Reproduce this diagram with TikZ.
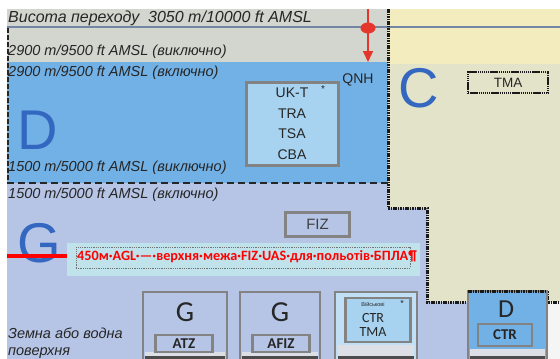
\documentclass[tikz,border=0pt]{standalone}
\usepackage{fontspec}
\setmainfont{Liberation Sans}
\newfontfamily\carl{Carlito}
\usetikzlibrary{arrows.meta}
\definecolor{greytop}{HTML}{D3D6CF}
\definecolor{dblue}{HTML}{72B1E6}
\definecolor{gviolet}{HTML}{B6C5E6}
\definecolor{yelTop}{HTML}{F3ECBE}
\definecolor{yelLow}{HTML}{E2E3C9}
\definecolor{boxblue}{HTML}{A7D3F1}
\definecolor{bigblue}{HTML}{3468C0}
\definecolor{boxgrey}{HTML}{838383}
\definecolor{steel}{HTML}{7386A6}
\definecolor{cyanbox}{HTML}{BFE2EB}
\definecolor{redmark}{HTML}{E4362B}
\definecolor{txt}{HTML}{262626}
\definecolor{groundstrip}{HTML}{DCE0E6}
\tikzset{
  lvl/.style={anchor=west, inner sep=0, text=txt, font=\itshape\fontsize{14.5}{14.5}\selectfont},
  bigletter/.style={inner sep=0, text=bigblue, font=\fontsize{56}{56}\selectfont},
  greybox/.style={draw=boxgrey, line width=2.5pt},
  boxtext/.style={inner sep=0, text=txt, font=\fontsize{14}{14}\selectfont},
  cboxtext/.style={inner sep=0, text=txt, font=\carl\fontsize{14}{14}\selectfont},
  cbig/.style={inner sep=0, text=txt, font=\carl\fontsize{29}{29}\selectfont},
  dotline/.style={draw=black!90, line width=3pt, dash pattern=on 1.6pt off 0.8pt},
}
\begin{document}
\begin{tikzpicture}[x=1pt,y=-1pt]
\useasboundingbox (0,0) rectangle (560,359);
% backgrounds
\fill[white] (0,0) rectangle (560,359);
\fill[gviolet] (7,183) rectangle (560,359);
\fill[greytop] (7,9) rectangle (388,62);
\fill[dblue] (7,62) rectangle (388,183);
\fill[yelLow] (388,9) -- (560,9) -- (560,302) -- (547,302) -- (547,291) -- (468,291)
  -- (468,302) -- (427,302) -- (427,208) -- (388,208) -- cycle;
\fill[yelTop] (388,9) rectangle (560,64);
\fill[black!4] (547,302) rectangle (560,359);
% transition level line
\draw[steel, line width=1.2pt] (7,27) -- (560,27);
% boundaries
\draw[dotline] (388,9) -- (388,208) -- (427,208) -- (427,302) -- (468,302) -- (468,291)
  -- (547,291) -- (547,302) -- (560,302);
\draw[black!85, line width=2pt, dash pattern=on 5pt off 2pt] (8,28) -- (8,182);
\draw[black!85, line width=2pt, dash pattern=on 7pt off 4pt] (7,183) -- (388,183);
% red marker
\coordinate (rtop) at (368,9);
\coordinate (rend) at (368,62);
\draw[redmark, line width=1.6pt, -{Triangle[length=11pt,width=10pt]}] (rtop) -- (rend);
\fill[redmark] (368,28) ellipse (7.5 and 5.5);
% level labels
\node[lvl, font=\itshape\fontsize{16}{16}\selectfont] (tl) at (8,18) {Висота переходу\ \ 3050 m/10000 ft AMSL};
\node[lvl] (l1) at (8,52) {2900 m/9500 ft AMSL (виключно)};
\node[lvl] (l2) at (8,73) {2900 m/9500 ft AMSL (включно)};
\node[lvl] (l3) at (8,168) {1500 m/5000 ft AMSL (виключно)};
\node[lvl] (l4) at (8,195) {1500 m/5000 ft AMSL (включно)};
\node[lvl] (s1) at (8,333) {Земна або водна};
\node[lvl] (s2) at (8,353) {поверхня};
% class letters
\node[bigletter] (D) at (38,130) {D};
\node[bigletter] (C) at (419,88) {C};
\node[bigletter] (G) at (39,243) {G};
% UK-T box
\node[greybox, fill=boxblue, minimum width=92pt, minimum height=83pt] (ukbox) at (292.5,124) {};
\node[boxtext] (ukt) at (292,93) {UK-T};
\node[boxtext, font=\fontsize{10}{10}\selectfont] (star1) at (323,89) {*};
\node[boxtext] (tra) at (292,114) {TRA};
\node[boxtext] (tsa) at (292,134) {TSA};
\node[boxtext] (cba) at (292,155) {CBA};
\node[boxtext] (qnh) at (358,80) {QNH};
% TMA box in C
\node[draw=black!90, line width=2.4pt, dash pattern=on 1.4pt off 0.7pt, minimum width=80pt,
  minimum height=21pt, inner sep=0, text=txt, font=\fontsize{13.5}{13.5}\selectfont] (tma) at (508,82.5) {TMA};
% FIZ box
\node[greybox, minimum width=64pt, minimum height=24pt, inner sep=0, text=black!75,
  font=\fontsize{15}{15}\selectfont] (fiz) at (317.5,224.5) {FIZ};
% red line and note
\coordinate (rl0) at (7,256);
\coordinate (rl1) at (70,256);
\draw[red, line width=4pt] (rl0) -- (rl1);
\node[fill=cyanbox, minimum width=353pt, minimum height=33pt, inner sep=0] (note) at (243.5,259.5) {};
\node[draw=black!55, line width=0.6pt, dash pattern=on 1pt off 0.8pt, minimum width=334pt,
  minimum height=21pt, inner sep=0] (notebox) at (243,257.5) {};
\node[anchor=west, inner sep=0, text=red, font=\carl\bfseries\fontsize{14.2}{14.2}\selectfont] (notetext) at (77,257)
  {450м·AGL·—·верхня·межа·FIZ·UAS·для·польотів·БПЛА¶};
% bottom boxes
% ATZ
\fill[groundstrip] (145,352) rectangle (225,359);
\fill[black!70] (145,356) rectangle (225,359);
\node[greybox, minimum width=84pt, minimum height=70pt, inner sep=0] (atzbox) at (185,327) {};
\node[cbig] (g1) at (185,312) {G};
\node[greybox, minimum width=57pt, minimum height=17pt, inner sep=0, text=txt,
  font=\carl\bfseries\fontsize{15}{15}\selectfont] (atz) at (184,343.5) {ATZ};
% AFIZ
\fill[groundstrip] (242,352) rectangle (318,359);
\fill[black!70] (242,356) rectangle (318,359);
\node[greybox, minimum width=80pt, minimum height=70pt, inner sep=0] (afizbox) at (280,327) {};
\node[cbig] (g2) at (280,312) {G};
\node[greybox, minimum width=57pt, minimum height=17pt, inner sep=0, text=txt,
  font=\carl\bfseries\fontsize{15}{15}\selectfont] (afiz) at (281,343.5) {AFIZ};
% CTR/TMA military
\node[greybox, fill=boxblue!70!white, minimum width=82pt, minimum height=70pt, inner sep=0] (milbox) at (376,327) {};
\fill[groundstrip] (338,345) rectangle (414,359);
\fill[black!70] (338,356) rectangle (414,359);
\node[greybox, fill=boxblue, minimum width=65pt, minimum height=44pt, inner sep=0] (milin) at (378,320) {};
\node[inner sep=0, text=txt, font=\fontsize{5.5}{5.5}\selectfont] (mil) at (373,304) {Військові};
\node[inner sep=0, text=txt, font=\fontsize{9}{9}\selectfont] (star2) at (402,303) {*};
\node[cboxtext] (ctr1) at (373,318) {CTR};
\node[cboxtext] (tma2) at (373,332) {TMA};
% D/CTR
\node[greybox, fill=dblue, minimum width=79pt, minimum height=70pt, inner sep=0] (dbox) at (507.5,326) {};
\fill[groundstrip] (470,349) rectangle (545,359);
\fill[black!70] (470,356) rectangle (545,359);
\draw[dotline] (468,291) -- (547,291);
\node[cbig, font=\carl\fontsize{26}{26}\selectfont] (d2) at (506,309) {D};
\node[greybox, minimum width=54pt, minimum height=22pt, inner sep=0, text=txt,
  font=\carl\bfseries\fontsize{15}{15}\selectfont] (ctr2) at (505,335) {CTR};
\end{tikzpicture}
\end{document}
